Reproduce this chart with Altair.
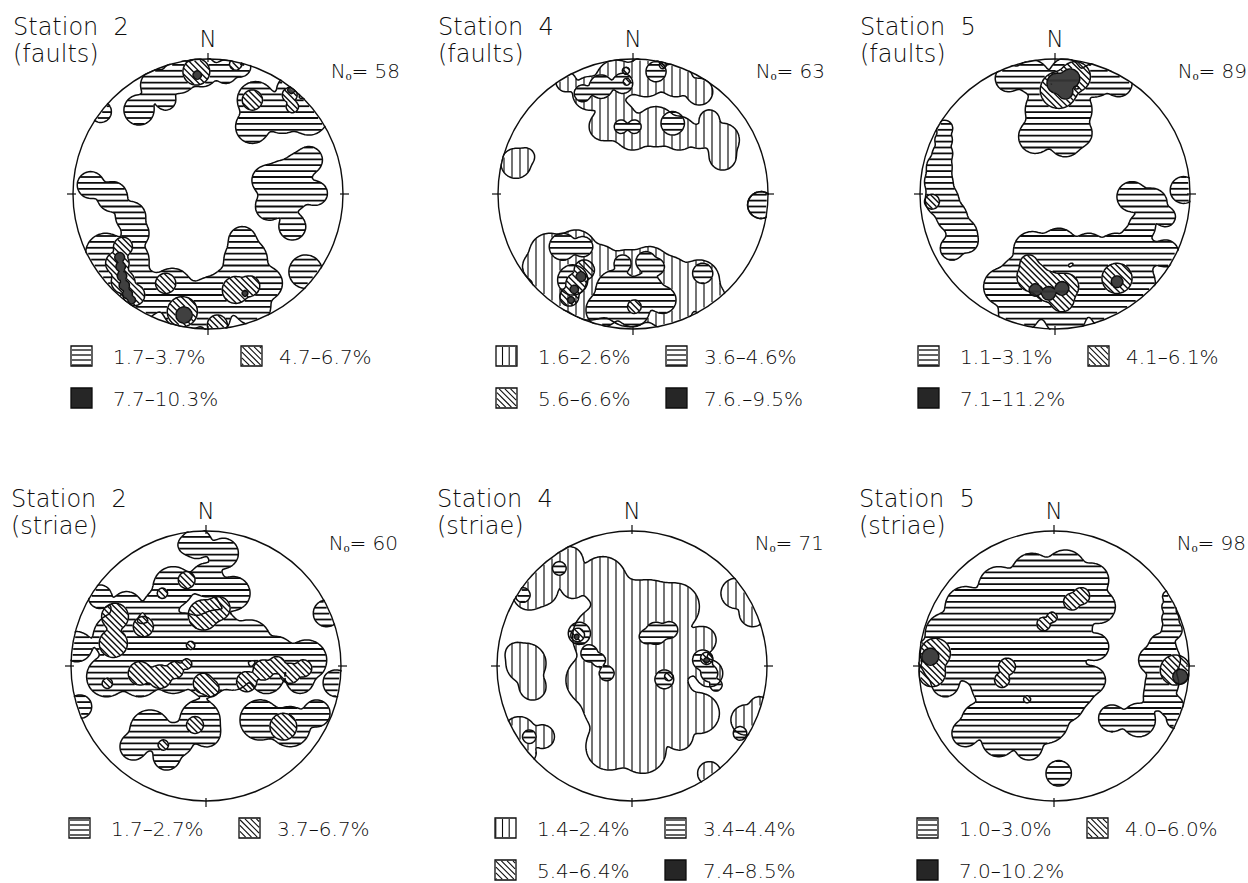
import math
import numpy as np
import pandas as pd
import altair as alt

# ------------------------------------------------------------------
# Data
# ------------------------------------------------------------------
TITLES = ["Station\u00a0 2", "Station\u00a0 4", "Station\u00a0 5",
          "Station\u00a0 2", "Station\u00a0 4", "Station\u00a0 5"]
SUBTITLES = ["(faults)", "(faults)", "(faults)", "(striae)", "(striae)", "(striae)"]
COUNTS = [58, 63, 89, 60, 71, 98]
LEGEND_LABELS = [
    ["1.7\u20133.7%", "4.7\u20136.7%", "7.7\u201310.3%"],
    ["1.6\u20132.6%", "3.6\u20134.6%", "5.6\u20136.6%", "7.6.\u20139.5%"],
    ["1.1\u20133.1%", "4.1\u20136.1%", "7.1\u201311.2%"],
    ["1.7\u20132.7%", "3.7\u20136.7%"],
    ["1.4\u20132.4%", "3.4\u20134.4%", "5.4\u20136.4%", "7.4\u20138.5%"],
    ["1.0\u20133.0%", "4.0\u20136.0%", "7.0\u201310.2%"],
]
# fill pattern of each contour level: h horizontal, v vertical, d diagonal, k solid
PATTERNS = [["h", "d", "k"], ["v", "h", "d", "k"], ["h", "d", "k"],
            ["h", "d"], ["v", "h", "d", "k"], ["h", "d", "k"]]

# Density contours digitised as blended discs (x, y, radius) on a 3x
# enlargement of each net; DIGITISE_ORIGIN is the net centre there and
# DIGITISE_RADIUS the net radius in the same units.
DIGITISE_ORIGIN = [(627, 582), (651, 582), (669, 582), (618, 738), (648, 738), (666, 738)]
DIGITISE_RADIUS = 405.0

P1_L1 = [(470, 255, 45), (420, 330, 45), (540, 230, 50), (610, 215, 45), (680, 215, 35), (725, 200, 30), (500, 300, 30),
         (770, 300, 55), (760, 380, 50), (850, 340, 60), (930, 350, 55), (870, 265, 35), (960, 330, 40),
         (305, 335, 32),
         (860, 560, 80), (800, 540, 40), (930, 480, 40), (950, 580, 35), (880, 680, 40), (810, 620, 40), (900, 500, 40),
         (275, 555, 40), (340, 590, 45), (395, 650, 45), (410, 700, 40), (320, 760, 60), (390, 780, 60), (330, 850, 60),
         (430, 880, 70), (400, 940, 50), (520, 860, 55), (560, 920, 70), (640, 900, 70), (700, 860, 60), (740, 780, 65),
         (730, 720, 40), (800, 850, 50), (760, 920, 55), (650, 960, 40),
         (920, 815, 50)]
P1_L2 = [(592, 215, 40), (710, 192, 18), (760, 300, 30), (872, 285, 22), (880, 320, 18), (372, 740, 28), (355, 790, 35),
         (372, 845, 35), (405, 885, 32), (500, 850, 30), (550, 935, 45), (710, 870, 40), (752, 858, 30), (655, 975, 30)]
P1_L3 = [(595, 225, 12), (877, 270, 10), (362, 772, 14), (365, 800, 14), (369, 828, 14), (376, 856, 15), (386, 882, 14),
         (398, 900, 11), (555, 945, 24), (738, 880, 8)]

P2_L1 = [(450, 245, 30), (520, 280, 50), (600, 240, 60), (690, 230, 60), (780, 240, 50), (850, 275, 40), (600, 360, 60),
         (560, 380, 40), (650, 400, 50), (720, 380, 60), (790, 400, 50), (850, 410, 35), (920, 420, 50), (920, 470, 40),
         (880, 360, 30),
         (300, 490, 45), (330, 470, 25),
         (1035, 615, 40),
         (400, 760, 60), (480, 750, 60), (550, 790, 55), (630, 810, 60), (700, 800, 60), (760, 830, 60), (850, 840, 60),
         (880, 900, 50), (420, 860, 70), (520, 880, 80), (640, 900, 80), (760, 920, 70), (360, 800, 40)]
P2_L2 = [(500, 280, 25), (555, 260, 35), (620, 250, 30), (720, 215, 30), (615, 380, 20), (655, 380, 20), (770, 370, 35),
         (1035, 615, 40),
         (440, 740, 40), (500, 740, 30), (470, 840, 45), (600, 870, 60), (690, 870, 50), (740, 900, 40), (560, 930, 50),
         (650, 930, 50), (690, 785, 30), (720, 800, 25), (860, 820, 30), (620, 790, 25)]
P2_L3 = [(630, 212, 10), (632, 245, 10), (740, 195, 10), (505, 810, 30), (480, 850, 30), (460, 890, 28), (655, 920, 20)]
P2_L4 = [(495, 830, 14), (475, 868, 12), (465, 900, 10)]

P3_L1 = [(530, 235, 40), (600, 230, 50), (700, 220, 45), (790, 240, 50), (860, 250, 40), (650, 330, 70), (720, 330, 60),
         (610, 410, 50), (700, 420, 50), (740, 400, 40),
         (338, 385, 24), (335, 420, 26), (332, 460, 30), (322, 500, 38), (320, 545, 42), (330, 600, 50), (360, 650, 45),
         (390, 700, 45), (405, 725, 32), (360, 745, 35),
         (1055, 570, 40),
         (900, 590, 45), (960, 610, 45), (930, 680, 40), (1000, 650, 30), (900, 710, 30),
         (600, 750, 55), (680, 740, 55), (770, 750, 50), (850, 750, 50), (930, 760, 50), (1000, 760, 40), (510, 860, 55),
         (560, 820, 50), (650, 870, 80), (780, 860, 80), (900, 850, 70), (560, 940, 60), (700, 950, 60), (840, 940, 60)]
P3_L2 = [(680, 270, 55), (730, 230, 45), (300, 605, 22), (600, 830, 45), (650, 860, 45), (700, 860, 40), (690, 900, 35),
         (590, 790, 25), (855, 835, 45)]
P3_L3 = [(675, 250, 30), (715, 235, 28), (700, 275, 22), (610, 870, 18), (650, 880, 20), (690, 865, 20), (855, 845, 17)]

P4_L1 = [(590, 370, 45), (670, 400, 45), (560, 375, 25),
         (520, 500, 60), (620, 480, 50), (700, 520, 50), (480, 560, 50), (300, 530, 35), (380, 560, 45),
         (350, 650, 70), (450, 680, 70), (550, 650, 70), (650, 640, 70), (750, 660, 60), (830, 700, 50), (920, 720, 60),
         (800, 770, 50), (900, 780, 40), (320, 770, 60), (420, 770, 60), (520, 760, 60), (620, 770, 60), (700, 760, 50),
         (450, 930, 60), (400, 980, 40), (530, 960, 50), (500, 1010, 40), (600, 900, 60), (620, 940, 40), (780, 900, 60),
         (870, 920, 60), (950, 880, 40),
         (230, 680, 45), (240, 860, 35), (980, 580, 40), (1010, 790, 40)]
P4_L2 = [(560, 480, 25), (487, 520, 15), (345, 590, 40), (340, 670, 42), (430, 620, 30), (610, 585, 45), (655, 565, 35),
         (572, 676, 12), (322, 790, 15), (420, 760, 35), (480, 770, 35), (525, 750, 25), (560, 732, 15), (610, 790, 30),
         (632, 805, 25), (740, 785, 30), (790, 750, 30), (830, 735, 25), (870, 760, 30), (910, 745, 25), (585, 915, 25),
         (490, 975, 15), (850, 920, 40)]

P5_L1 = [(560, 480, 70), (620, 560, 80), (700, 560, 80), (780, 560, 70), (560, 650, 90), (680, 680, 110), (800, 700, 70),
         (860, 660, 40), (880, 760, 40), (520, 780, 70), (600, 850, 100), (740, 840, 90), (850, 880, 60), (580, 980, 70),
         (680, 990, 70), (790, 950, 40),
         (400, 450, 50), (340, 520, 50), (460, 420, 40), (380, 510, 45), (470, 500, 35),
         (330, 730, 60), (350, 800, 40), (300, 700, 30),
         (310, 940, 50), (380, 950, 35), (330, 1000, 30),
         (960, 520, 45), (1010, 580, 40),
         (990, 900, 45), (1030, 860, 30), (880, 1060, 35)]
P5_L2 = [(430, 445, 20), (320, 525, 22), (490, 640, 33), (520, 700, 25), (548, 720, 20), (572, 760, 22), (720, 640, 33),
         (760, 630, 25), (690, 650, 20), (745, 778, 28), (860, 720, 30), (880, 760, 25), (900, 795, 18), (340, 950, 20),
         (972, 940, 20)]
P5_L3 = [(485, 645, 20), (758, 770, 12), (872, 715, 18)]
P5_L4 = [(482, 650, 7), (872, 720, 7)]

P6_L1 = [(400, 560, 60), (500, 500, 60), (600, 460, 60), (700, 450, 60), (780, 480, 50), (800, 560, 50), (340, 640, 60),
         (450, 620, 70), (560, 580, 70), (680, 560, 70), (740, 620, 40), (330, 730, 60), (430, 720, 70), (550, 700, 80),
         (680, 700, 80), (790, 680, 40), (340, 790, 40), (480, 800, 60), (600, 820, 70), (720, 800, 70), (780, 780, 40),
         (440, 900, 50), (530, 900, 70), (640, 900, 70), (710, 860, 40), (500, 960, 50), (590, 980, 40), (400, 940, 40),
         (290, 700, 40),
         (1010, 530, 18), (1012, 560, 22), (1015, 595, 25), (1020, 630, 30), (990, 680, 40), (960, 720, 40),
         (1000, 720, 45), (990, 790, 50), (975, 830, 40), (1020, 860, 35), (1030, 900, 25),
         (840, 895, 40), (920, 900, 50),
         (680, 1060, 38)]
P6_L2 = [(720, 545, 25), (748, 528, 25), (635, 612, 20), (660, 592, 15), (525, 740, 25), (510, 780, 22), (585, 838, 10),
         (310, 700, 45), (300, 760, 40), (1030, 750, 45)]
P6_L3 = [(295, 710, 25), (1045, 770, 22)]

BLOBS = [[P1_L1, P1_L2, P1_L3], [P2_L1, P2_L2, P2_L3, P2_L4], [P3_L1, P3_L2, P3_L3],
         [P4_L1, P4_L2], [P5_L1, P5_L2, P5_L3, P5_L4], [P6_L1, P6_L2, P6_L3]]

# ------------------------------------------------------------------
# Layout and style
# ------------------------------------------------------------------
W, H = 1248, 883
R = 135.0
CENTERS = [(208, 194), (633, 194), (1055, 194), (206, 666), (632, 666), (1054, 666)]
FONT = "DejaVu Sans"
WEIGHT = 200
INK = "#0d0d0d"
DARK = "#262626"
OUTLINE_W = 1.5
SOFT = 3.0            # blending of the discs into smooth contours
STYLE = {"h": (0.0, 5.9, 1.8), "v": (90.0, 8.0, 1.15), "d": (45.0, 4.3, 1.4), "k": (0.0, 1.0, 1.3)}
LEG_STYLE = {"h": (0.0, 5.0, 1.3), "v": (90.0, 6.7, 1.1), "d": (45.0, 4.1, 1.1)}
LEG_COL_BOX = [-137, 33]
LEG_COL_TXT = [-95, 71]
LEG_ROW = [162, 204]
BOX_W, BOX_H = 21, 20


def to_px(p, circ):
    ox, oy = DIGITISE_ORIGIN[p]
    cx, cy = CENTERS[p]
    k = R / DIGITISE_RADIUS
    return np.array([(cx + (x - ox) * k, cy + (y - oy) * k, r * k) for x, y, r in circ], dtype=float)


def field(arr):
    def f(px, py):
        if arr is None or len(arr) == 0:
            return np.zeros(px.shape)
        d2 = (px[:, None] - arr[None, :, 0]) ** 2 + (py[:, None] - arr[None, :, 1]) ** 2
        return np.exp(-SOFT * (d2 / arr[None, :, 2] ** 2 - 1.0)).sum(axis=1)
    return f


def hatch(inside, bx0, bx1, by0, by1, angle, spacing, step=0.5):
    cxm, cym = (bx0 + bx1) / 2, (by0 + by1) / 2
    ext = math.hypot(bx1 - bx0, by1 - by0) / 2 + spacing
    th = math.radians(angle)
    dx, dy = math.cos(th), math.sin(th)
    nx, ny = -dy, dx
    ts = np.arange(-ext, ext + step, step)
    c0 = cxm * nx + cym * ny
    segs = []
    for kk in range(math.floor((c0 - ext) / spacing), math.ceil((c0 + ext) / spacing) + 1):
        c = kk * spacing - c0
        px = cxm + c * nx + ts * dx
        py = cym + c * ny + ts * dy
        m = inside(px, py)
        if not m.any():
            continue
        diff = np.diff(np.concatenate([[0], m.astype(np.int8), [0]]))
        starts = np.where(diff == 1)[0]
        ends = np.where(diff == -1)[0] - 1
        for s, e in zip(starts, ends):
            if e - s >= 1:
                segs.append((px[s], py[s], px[e], py[e]))
    return segs


def contours(f, x0, x1, y0, y1, step=1.5):
    xs_ = np.arange(x0, x1 + step, step)
    ys_ = np.arange(y0, y1 + step, step)
    GX, GY = np.meshgrid(xs_, ys_)
    F = f(GX.ravel(), GY.ravel()).reshape(GY.shape)
    F[0, :] = 0
    F[-1, :] = 0
    F[:, 0] = 0
    F[:, -1] = 0
    A = F >= 1.0
    cnt = A[:-1, :-1].astype(int) + A[:-1, 1:] + A[1:, 1:] + A[1:, :-1]
    js, iis = np.where((cnt > 0) & (cnt < 4))
    adj = {}

    def link(a, b):
        adj.setdefault(a, []).append(b)
        adj.setdefault(b, []).append(a)

    for j, i in zip(js, iis):
        a0, a1, a2, a3 = bool(A[j, i]), bool(A[j, i + 1]), bool(A[j + 1, i + 1]), bool(A[j + 1, i])
        top, right, bottom, left = ("h", j, i), ("v", j, i + 1), ("h", j + 1, i), ("v", j, i)
        es = [e for e, c in ((top, a0 != a1), (right, a1 != a2), (bottom, a2 != a3), (left, a3 != a0)) if c]
        if len(es) == 2:
            link(es[0], es[1])
        elif len(es) == 4:
            centre = (F[j, i] + F[j, i + 1] + F[j + 1, i + 1] + F[j + 1, i]) / 4 >= 1.0
            if centre == a0:
                link(top, right)
                link(bottom, left)
            else:
                link(top, left)
                link(right, bottom)

    def pt(key):
        kind, j, i = key
        if kind == "h":
            t = (1 - F[j, i]) / (F[j, i + 1] - F[j, i])
            return (xs_[i] + t * step, ys_[j])
        t = (1 - F[j, i]) / (F[j + 1, i] - F[j, i])
        return (xs_[i], ys_[j] + t * step)

    seen, paths = set(), []
    for key in adj:
        if key in seen:
            continue
        path = [key]
        seen.add(key)
        cur = key
        while True:
            nb = [n for n in adj[cur] if n not in seen]
            if not nb:
                break
            cur = nb[0]
            seen.add(cur)
            path.append(cur)
        pts = [pt(q) for q in path]
        pts.append(pts[0])
        paths.append(pts)
    return paths


NLEV = 4
hatch_rows = [[] for _ in range(NLEV)]
line_rows = [[] for _ in range(NLEV)]
cid = 0
for p in range(6):
    cx, cy = CENTERS[p]
    levels = [to_px(p, c) for c in BLOBS[p]]
    for i, arr in enumerate(levels):
        pat = PATTERNS[p][i]
        f_in = field(arr)
        f_out = field(levels[i + 1] if i + 1 < len(levels) else None)

        def inside(px, py, f_in=f_in, f_out=f_out, cx=cx, cy=cy):
            net = (px - cx) ** 2 + (py - cy) ** 2 <= (R - 0.9) ** 2
            return net & (f_in(px, py) >= 1.0) & (f_out(px, py) < 0.8)

        ang, sp, w = STYLE[pat]
        for x1, y1, x2, y2 in hatch(inside, cx - R, cx + R, cy - R, cy + R, ang, sp):
            hatch_rows[i].append({"x": x1, "y": y1, "x2": x2, "y2": y2, "w": w,
                                  "c": DARK if pat == "k" else INK})
        for path in contours(f_in, cx - R - 50, cx + R + 50, cy - R - 50, cy + R + 50):
            for k, (x, y) in enumerate(path):
                line_rows[i].append({"x": x, "y": y, "cid": cid, "k": k})
            cid += 1

# legends
leg_rect_rows, leg_hatch_rows, leg_text_rows = [], [], []
for p in range(6):
    cx, cy = CENTERS[p]
    for j, lab in enumerate(LEGEND_LABELS[p]):
        pat = PATTERNS[p][j]
        col, row = j % 2, j // 2
        bx0 = cx + LEG_COL_BOX[col]
        by0 = cy + LEG_ROW[row] - BOX_H / 2
        bx1, by1 = bx0 + BOX_W, by0 + BOX_H
        leg_rect_rows.append({"x": bx0, "y": by0, "x2": bx1, "y2": by1, "fc": DARK if pat == "k" else "white"})
        if pat != "k":
            def inbox(px, py, a=bx0, b=bx1, c=by0, d=by1):
                return (px > a + 0.8) & (px < b - 0.8) & (py > c + 0.8) & (py < d - 0.8)
            ang, sp, w = LEG_STYLE[pat]
            for x1, y1, x2, y2 in hatch(inbox, bx0, bx1, by0, by1, ang, sp, step=0.25):
                leg_hatch_rows.append({"x": x1, "y": y1, "x2": x2, "y2": y2, "w": w})
        leg_text_rows.append({"x": cx + LEG_COL_TXT[col], "y": cy + LEG_ROW[row] + 7.5, "t": lab})

title_rows, n_rows, count_rows, tick_rows, net_rows = [], [], [], [], []
for p in range(6):
    cx, cy = CENTERS[p]
    title_rows.append({"x": cx - 195, "y": cy - 159, "t": TITLES[p]})
    title_rows.append({"x": cx - 195, "y": cy - 132, "t": SUBTITLES[p]})
    n_rows.append({"x": cx, "y": cy - 147, "t": "N"})
    count_rows.append({"x": cx + 192, "y": cy - 116, "t": f"N\u2092= {COUNTS[p]}"})
    net_rows.append({"x": cx, "y": cy, "s": (2 * R) ** 2, "sm": (2 * (R + 0.9 + 30)) ** 2})
    tick_rows += [
        {"x": cx, "y": cy - R - 6, "x2": cx, "y2": cy - R + 3},
        {"x": cx, "y": cy + R - 3, "x2": cx, "y2": cy + R + 6},
        {"x": cx - R - 6, "y": cy, "x2": cx - R + 3, "y2": cy},
        {"x": cx + R - 3, "y": cy, "x2": cx + R + 6, "y2": cy},
    ]

# ------------------------------------------------------------------
# Chart
# ------------------------------------------------------------------
xs = alt.Scale(domain=[0, W], nice=False, zero=False)
ys = alt.Scale(domain=[0, H], nice=False, zero=False, reverse=True)
X = alt.X("x:Q", scale=xs, axis=None)
Y = alt.Y("y:Q", scale=ys, axis=None)
X2 = alt.X2("x2:Q")
Y2 = alt.Y2("y2:Q")

layers = []
for i in range(NLEV):
    if hatch_rows[i]:
        layers.append(alt.Chart(pd.DataFrame(hatch_rows[i])).mark_rule(strokeCap="butt").encode(
            x=X, y=Y, x2=X2, y2=Y2,
            strokeWidth=alt.StrokeWidth("w:Q", scale=None),
            color=alt.Color("c:N", scale=None)))
    if line_rows[i]:
        layers.append(alt.Chart(pd.DataFrame(line_rows[i])).mark_line(
            color=INK, strokeWidth=OUTLINE_W, strokeJoin="round"
        ).encode(x=X, y=Y, detail="cid:N", order="k:Q"))

net_df = pd.DataFrame(net_rows)
layers.append(alt.Chart(net_df).mark_point(
    shape="circle", filled=False, stroke="white", strokeWidth=60, opacity=1
).encode(x=X, y=Y, size=alt.Size("sm:Q", scale=None)))
layers.append(alt.Chart(net_df).mark_point(
    shape="circle", filled=False, stroke=INK, strokeWidth=1.4, opacity=1
).encode(x=X, y=Y, size=alt.Size("s:Q", scale=None)))
layers.append(alt.Chart(pd.DataFrame(tick_rows)).mark_rule(color=INK, strokeWidth=1.2).encode(
    x=X, y=Y, x2=X2, y2=Y2))

layers.append(alt.Chart(pd.DataFrame(leg_rect_rows)).mark_rect(stroke=INK, strokeWidth=1.3).encode(
    x=X, y=Y, x2=X2, y2=Y2, fill=alt.Fill("fc:N", scale=None)))
layers.append(alt.Chart(pd.DataFrame(leg_hatch_rows)).mark_rule(color=INK, strokeCap="butt").encode(
    x=X, y=Y, x2=X2, y2=Y2, strokeWidth=alt.StrokeWidth("w:Q", scale=None)))

txt = dict(font=FONT, fontWeight=WEIGHT, color=INK, baseline="alphabetic")
layers.append(alt.Chart(pd.DataFrame(title_rows)).mark_text(align="left", fontSize=24, **txt).encode(
    x=X, y=Y, text="t:N"))
layers.append(alt.Chart(pd.DataFrame(n_rows)).mark_text(align="center", fontSize=23, **txt).encode(
    x=X, y=Y, text="t:N"))
layers.append(alt.Chart(pd.DataFrame(count_rows)).mark_text(align="right", fontSize=20, **txt).encode(
    x=X, y=Y, text="t:N"))
layers.append(alt.Chart(pd.DataFrame(leg_text_rows)).mark_text(align="left", fontSize=20, **txt).encode(
    x=X, y=Y, text="t:N"))

chart = alt.layer(*layers).properties(
    width=W, height=H, padding=0, autosize=alt.AutoSizeParams(type="none")
).configure_view(stroke=None)

chart.save("out.html", embed_options={"renderer": "svg", "actions": False})
